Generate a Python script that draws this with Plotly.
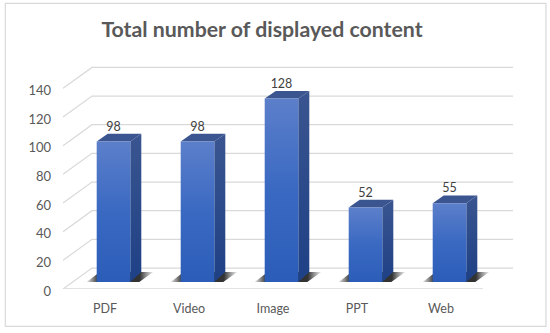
import plotly.graph_objects as go

categories = ["PDF", "Video", "Image", "PPT", "Web"]
values = [98, 98, 128, 52, 55]
y_ticks = [0, 20, 40, 60, 80, 100, 120, 140]
title_text = "Total number of displayed content"

W, H = 550, 333
L, R, T, B = 63, 513, 58, 289.3
PX_X, PX_Y = 84.0, 1.435
ux = lambda p: p / PX_X
uy = lambda p: p / PX_Y

GRID = "#d9d9d9"
TEXT = "#595959"
wall_dx, wall_dy = ux(29), uy(21)
bar_dx, bar_base = ux(8.5), uy(7)
half = ux(16.8)
side_dx, top_dy, bot_dy = ux(11), uy(7.7), uy(10)

fig = go.Figure()

def poly(xs, ys, **kw):
    fig.add_trace(go.Scatter(x=xs, y=ys, mode="lines", fill="toself", line=dict(width=0),
                             hoverinfo="skip", showlegend=False, cliponaxis=False, **kw))

# walls: gridlines running from front to back and along the back wall
x_left = -0.5
x_front_right = 4.5
x_back_right = x_left + wall_dx + ux(421)
for t in y_ticks:
    fig.add_trace(go.Scatter(
        x=[x_left, x_left + wall_dx, x_back_right],
        y=[t, t + wall_dy, t + wall_dy],
        mode="lines", line=dict(color=GRID, width=1.2),
        hoverinfo="skip", showlegend=False, cliponaxis=False))
fig.add_trace(go.Scatter(x=[x_left, x_front_right], y=[0, 0], mode="lines",
                         line=dict(color=GRID, width=1.3), hoverinfo="skip",
                         showlegend=False, cliponaxis=False))

for i, v in enumerate(values):
    cx = i + bar_dx
    xl, xr = cx - half, cx + half
    # shadow
    poly([xl - ux(10), xl + ux(3), xr + side_dx + ux(12), xr + ux(9)],
         [bar_base, bar_base + bot_dy, bar_base + bot_dy, bar_base],
         fillgradient=dict(type="horizontal",
                           colorscale=[[0, "rgba(60,60,60,0.15)"], [0.18, "#2b2b2b"],
                                       [0.8, "#333333"], [1, "rgba(90,90,90,0.1)"]]))
    # side face
    poly([xr, xr + side_dx, xr + side_dx, xr],
         [bar_base, bar_base + bot_dy, v + bar_base + top_dy, v + bar_base],
         fillgradient=dict(type="vertical",
                           colorscale=[[0, "#1e4085"], [1, "#3a5590"]]))
    # top face
    poly([xl, xl + side_dx, xr + side_dx, xr],
         [v + bar_base, v + bar_base + top_dy, v + bar_base + top_dy, v + bar_base],
         fillcolor="#3b5590")
    # front face
    poly([xl, xr, xr, xl],
         [bar_base, bar_base, v + bar_base, v + bar_base],
         fillgradient=dict(type="vertical",
                           colorscale=[[0, "#2b5db8"], [0.5, "#3a69c2"], [1, "#5c7fca"]]))

# value labels
fig.add_trace(go.Scatter(
    x=[i + bar_dx for i in range(len(values))],
    y=[v + bar_base + uy(14) for v in values],
    mode="text", text=[str(v) for v in values], textposition="middle center",
    textfont=dict(family="Lato", size=12.5, color="#404040"),
    hoverinfo="skip", showlegend=False, cliponaxis=False))

fig.update_layout(
    width=W, height=H, autosize=False,
    margin=dict(l=L, r=W - R, t=T, b=H - B, pad=0),
    paper_bgcolor="white", plot_bgcolor="white",
    title=dict(text=f"<b>{title_text}</b>", x=262 / W, xanchor="center", y=1 - 30 / H, yanchor="middle",
               font=dict(family="Lato", size=21.3, color=TEXT)),
    xaxis=dict(range=[x_left, x_left + ux(R - L)], tickmode="array",
               tickvals=list(range(len(categories))), ticktext=categories,
               showgrid=False, zeroline=False, showline=False, ticks="",
               ticklabelstandoff=10, tickfont=dict(family="Lato", size=12.5, color=TEXT)),
    yaxis=dict(range=[0, uy(B - T)], tickmode="array", tickvals=y_ticks,
               showgrid=False, zeroline=False, showline=False, ticks="",
               ticklabelstandoff=11, ticklabelshift=2,
               tickfont=dict(family="Lato", size=13, color=TEXT)),
    shapes=[dict(type="rect", xref="paper", yref="paper",
                 x0=(5.3 - L) / (R - L), x1=(546 - L) / (R - L),
                 y0=(B - 326.7) / (B - T), y1=(B - 3.3) / (B - T),
                 line=dict(color=GRID, width=1.2), fillcolor="rgba(0,0,0,0)", layer="below")],
)
fig.write_html("out.html", config=dict(displayModeBar=False),
               post_script="document.body.style.margin='0';document.documentElement.style.overflow='hidden';")
